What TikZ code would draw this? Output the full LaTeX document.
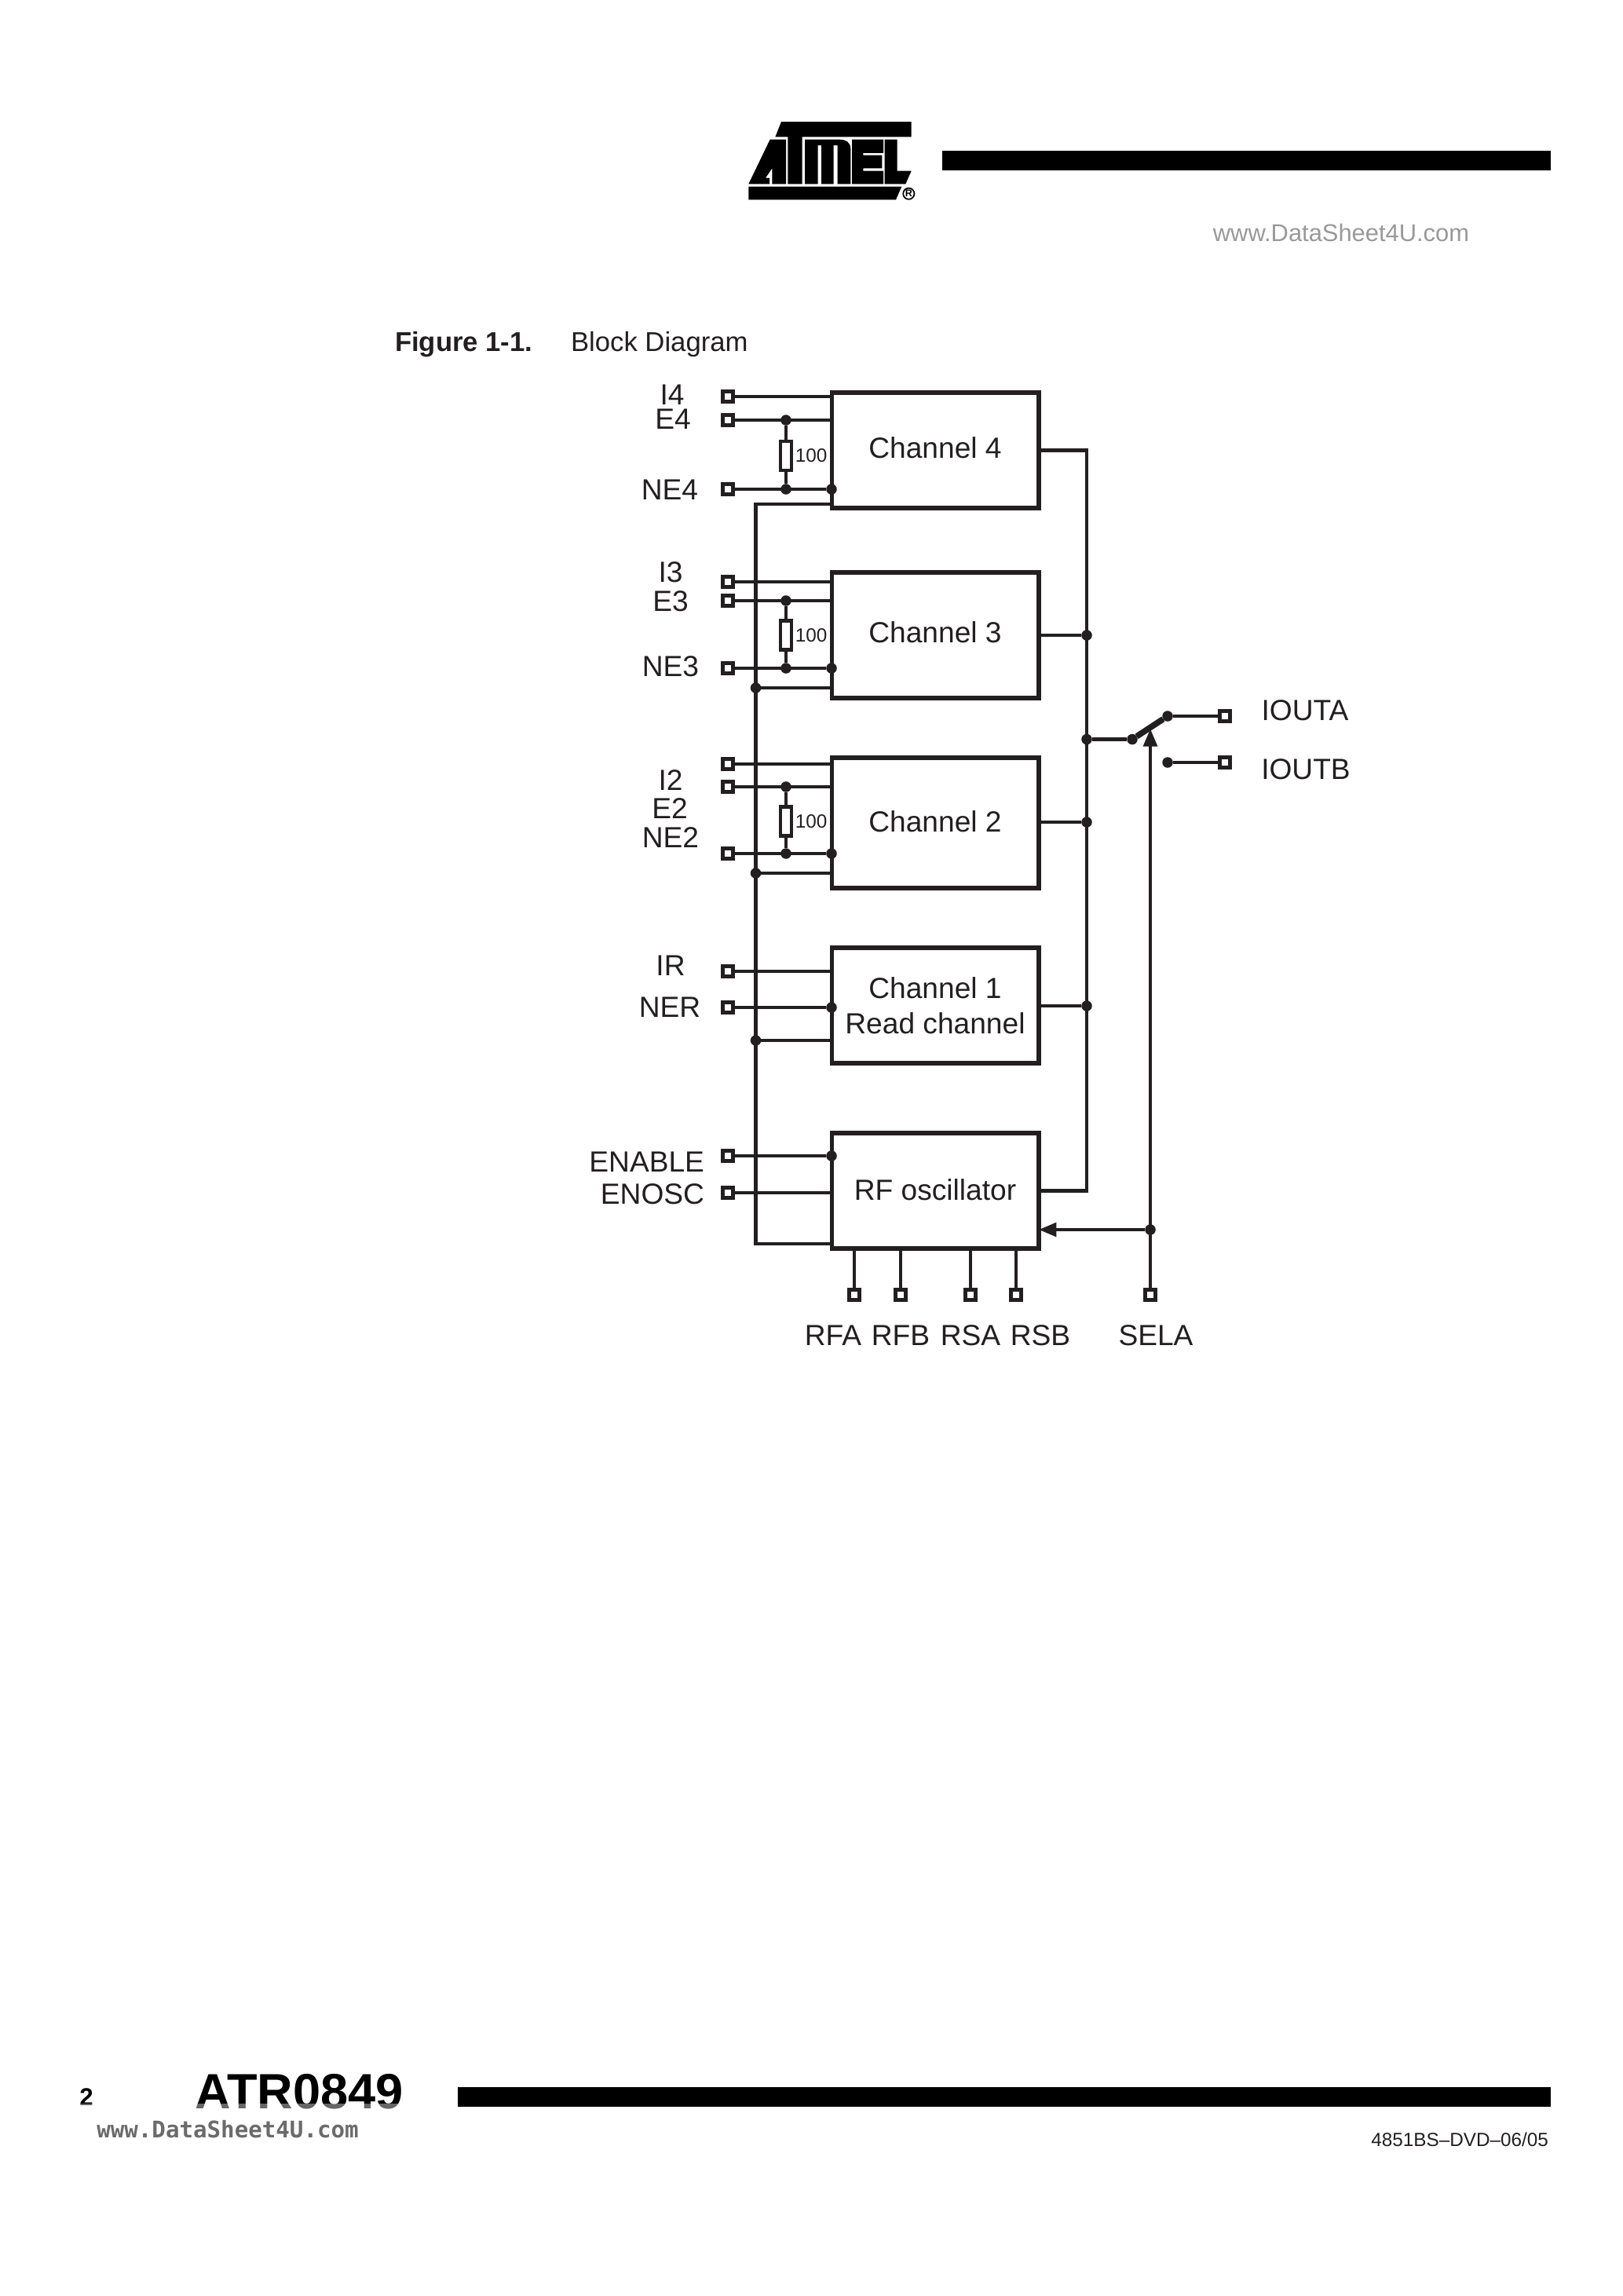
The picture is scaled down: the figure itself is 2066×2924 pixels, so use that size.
\documentclass[tikz,border=0pt]{standalone}
\usepackage{fontspec}
\setmainfont{Liberation Sans}
\newfontfamily\monofont{DejaVu Sans Mono}
\usetikzlibrary{arrows.meta,shapes,positioning}
\definecolor{ink}{HTML}{231F20}

\begin{document}
\begin{tikzpicture}[x=0.28813pt,y=-0.28813pt,>={Triangle[width=5pt,length=6.5pt]}]
        \tikzstyle{every node}=[inner sep=0pt, outer sep=0pt, text=ink]
        \tikzstyle{block}=[rectangle, draw=ink, line width=1.5pt, minimum width=76pt, align=center, font=\fontsize{10.7}{13}\selectfont]
        \tikzstyle{lbl}=[font=\fontsize{10.7}{13}\selectfont]
        \tikzstyle{port}=[rectangle, draw=ink, fill=white, line width=1.4pt, minimum size=3.6pt]
        \tikzstyle{dot}=[circle, fill=ink, minimum size=3.9pt]
        \tikzstyle{res}=[rectangle, draw=ink, fill=white, line width=1.2pt, minimum width=4pt, minimum height=10.7pt]
        \tikzstyle{resval}=[font=\fontsize{7}{8}\selectfont]
        \tikzstyle{wire}=[draw=ink, line width=1.35pt]
        \tikzstyle{headbar}=[fill=black]

        \useasboundingbox (0,0) rectangle (2066,2924);

        % page header
        \begin{scope}[shift={(940,145)},x=0.09604pt,y=-0.09604pt]
          \fill (165,30) -- (662,30) -- (662,88) -- (245,88) -- (245,268) -- (190,268) -- (190,88) -- (142,88) -- cycle;
          \fill (40,268) -- (122,98) -- (183,98) -- (183,268) -- (130,268) -- (130,208) -- (105,245) -- (120,245) -- (120,268) -- cycle;
          \fill (255,98) -- (385,98) .. controls (415,98) and (430,110) .. (430,135) -- (430,268) -- (380,268) -- (380,120) -- (365,120) -- (365,268) -- (318,268) -- (318,120) -- (305,120) -- (305,268) -- (255,268) -- cycle;
          \fill (435,98) -- (555,98) -- (555,150) -- (478,150) -- (478,158) -- (550,158) -- (550,208) -- (478,208) -- (478,218) -- (555,218) -- (555,268) -- (435,268) -- cycle;
          \fill (560,98) -- (608,98) -- (608,218) -- (662,218) -- (640,268) -- (560,268) -- cycle;
          \fill (40,278) -- (625,278) -- (603,328) -- (40,328) -- cycle;
          \node[circle, draw=black, line width=.5pt, minimum size=4.1pt, text=black, font=\bfseries\fontsize{3.6}{4}\selectfont] (regmark) at (652,305) {R};
        \end{scope}
        \fill[headbar] (1200,192) rectangle (1975,217);
        \node[text=black!40, font=\fontsize{8.9}{10}\selectfont] (wwwtop) at (1708,296) {www.DataSheet4U.com};

        % figure title
        \node[anchor=base west, font=\bfseries\fontsize{10}{12}\selectfont] (figno) at (503,447) {Figure 1-1.};
        \node[anchor=base west, font=\fontsize{10}{12}\selectfont]          (figname) at (727,447) {Block Diagram};

        % blocks
        \node[block, minimum height=42.4pt, text depth=1.8pt] (C4) at (1191,573.5) {Channel 4};
        \node[block, minimum height=46.1pt, text depth=2pt] (C3) at (1191,809)   {Channel 3};
        \node[block, minimum height=47.8pt, text depth=1pt] (C2) at (1191,1048)  {Channel 2};
        \node[block, minimum height=42.4pt] (C1) at (1191,1280.5) {Channel 1\\Read channel};
        \node[block, minimum height=42.4pt, text depth=1pt] (RF) at (1191,1516.5) {RF oscillator};

        % input ports
        \node[port] (I4)  at (927,505)  {};
        \node[port] (E4)  at (927,535)  {};
        \node[port] (NE4) at (927,623)  {};
        \node[port] (I3)  at (927,741)  {};
        \node[port] (E3)  at (927,765)  {};
        \node[port] (NE3) at (927,851)  {};
        \node[port] (I2)  at (927,973)  {};
        \node[port] (E2)  at (927,1002) {};
        \node[port] (NE2) at (927,1087) {};
        \node[port] (IR)  at (927,1237) {};
        \node[port] (NER) at (927,1283) {};
        \node[port] (ENA) at (927,1472) {};
        \node[port] (ENO) at (927,1519) {};

        % bottom and output ports
        \node[port] (RFA)  at (1088,1649) {};
        \node[port] (RFB)  at (1147,1649) {};
        \node[port] (RSA)  at (1236,1649) {};
        \node[port] (RSB)  at (1294,1649) {};
        \node[port] (SELA) at (1465,1649) {};
        \node[port] (IOA)  at (1560,912)  {};
        \node[port] (IOB)  at (1560,971)  {};

        % resistors
        \node[res] (R4) at (1001,580.5) {};
        \node[res] (R3) at (1001,809)   {};
        \node[res] (R2) at (1001,1046)  {};
        \node[resval, right=1.4pt of R4] (V4) {100};
        \node[resval, right=1.4pt of R3] (V3) {100};
        \node[resval, right=1.4pt of R2] (V2) {100};

        % bus corners
        \coordinate (busT) at (962.5,642);
        \coordinate (busB) at (962.5,1584);
        \coordinate (outT) at (1384,573.5);
        \coordinate (outB) at (1384,1516.5);
        \coordinate (tip)  at (1465,928);

        % junctions
        \node[dot] (dE4)  at (1001,535)  {};
        \node[dot] (dN4)  at (1001,623)  {};
        \node[dot] (bN4)  at (1059,623)  {};
        \node[dot] (dE3)  at (1001,765)  {};
        \node[dot] (dN3)  at (1001,851)  {};
        \node[dot] (bN3)  at (1059,851)  {};
        \node[dot] (tC3)  at (962.5,876) {};
        \node[dot] (dE2)  at (1001,1002) {};
        \node[dot] (dN2)  at (1001,1087) {};
        \node[dot] (bN2)  at (1059,1087) {};
        \node[dot] (tC2)  at (962.5,1112) {};
        \node[dot] (bNR)  at (1059,1283) {};
        \node[dot] (tC1)  at (962.5,1325) {};
        \node[dot] (bEN)  at (1059,1472) {};
        \node[dot] (oC3)  at (1384,809)  {};
        \node[dot] (oC2)  at (1384,1047) {};
        \node[dot] (oC1)  at (1384,1281) {};
        \node[dot] (oSW)  at (1384,941.5) {};
        \node[dot] (sSEL) at (1465,1566) {};
        \node[dot] (swL)  at (1442,941.5) {};
        \node[dot] (swA)  at (1487,912)  {};
        \node[dot] (swB)  at (1487,971)  {};

        % wires
        \path[wire] (I4) -- (C4.west |- I4)
                    (E4) -- (C4.west |- E4)
                    (NE4) -- (bN4)
                    (I3) -- (C3.west |- I3)
                    (E3) -- (C3.west |- E3)
                    (NE3) -- (bN3)
                    (tC3) -- (C3.west |- tC3)
                    (I2) -- (C2.west |- I2)
                    (E2) -- (C2.west |- E2)
                    (NE2) -- (bN2)
                    (tC2) -- (C2.west |- tC2)
                    (IR) -- (C1.west |- IR)
                    (NER) -- (bNR)
                    (tC1) -- (C1.west |- tC1)
                    (ENA) -- (bEN)
                    (ENO) -- (RF.west |- ENO);
        \path[wire] (C4.west |- busT) -- (busT) -- (busB) -- (RF.west |- busB);
        \path[wire] (C4.east) -- (outT) -- (outB) -- (RF.east);
        \path[wire] (oC3 -| C3.east) -- (oC3)
                    (oC2 -| C2.east) -- (oC2)
                    (oC1 -| C1.east) -- (oC1);
        \path[wire] (dE4) -- (R4) -- (dN4)
                    (dE3) -- (R3) -- (dN3)
                    (dE2) -- (R2) -- (dN2);
        \path[wire] (RFA) -- (RF.south -| RFA)
                    (RFB) -- (RF.south -| RFB)
                    (RSA) -- (RF.south -| RSA)
                    (RSB) -- (RF.south -| RSB);
        \path[wire] (oSW) -- (swL)
                    (swA) -- (IOA)
                    (swB) -- (IOB);
        \draw[line width=2.2pt, ink] (swL) -- (swA);
        \draw[wire, ink, ->] (SELA) -- (tip);
        \draw[wire, ink, ->] (sSEL) -- (RF.east |- sSEL);

        % labels
        \node[lbl] (lI4)  at (856,503)  {I4};
        \node[lbl] (lE4)  at (857,534)  {E4};
        \node[lbl] (lN4)  at (853,624)  {NE4};
        \node[lbl] (lI3)  at (854,729)  {I3};
        \node[lbl] (lE3)  at (854,766)  {E3};
        \node[lbl] (lN3)  at (854,849)  {NE3};
        \node[lbl] (lI2)  at (854,994)  {I2};
        \node[lbl] (lE2)  at (853,1030) {E2};
        \node[lbl] (lN2)  at (854,1067) {NE2};
        \node[lbl] (lIR)  at (854,1230) {IR};
        \node[lbl] (lNR)  at (853,1283) {NER};
        \node[lbl, anchor=east] (lEA) at (897,1480) {ENABLE};
        \node[lbl, anchor=east] (lEO) at (897,1521) {ENOSC};
        \node[lbl] (lRFA) at (1061,1701) {RFA};
        \node[lbl] (lRFB) at (1147,1701) {RFB};
        \node[lbl] (lRSA) at (1236,1701) {RSA};
        \node[lbl] (lRSB) at (1325,1701) {RSB};
        \node[lbl] (lSEL) at (1472,1701) {SELA};
        \node[lbl] (lIOA) at (1662,905)  {IOUTA};
        \node[lbl] (lIOB) at (1663,980)  {IOUTB};

        % page footer
        \node[text=black, font=\bfseries\fontsize{9}{10}\selectfont]  (pageno) at (110,2671) {2};
        \node[text=black, font=\bfseries\fontsize{18.2}{20}\selectfont] (partno) at (381,2664) {ATR0849};
        \fill[white, opacity=.4] (95,2679) rectangle (520,2690);
        \fill[headbar] (583,2658) rectangle (1975,2683);
        \node[text=black!58, font=\monofont\bfseries\fontsize{8.4}{10}\selectfont] (wwwbot) at (290,2712) {www.DataSheet4U.com};
        \node[anchor=east, font=\fontsize{7}{8}\selectfont] (docno) at (1972,2725) {4851BS–DVD–06/05};
\end{tikzpicture}
\end{document}
